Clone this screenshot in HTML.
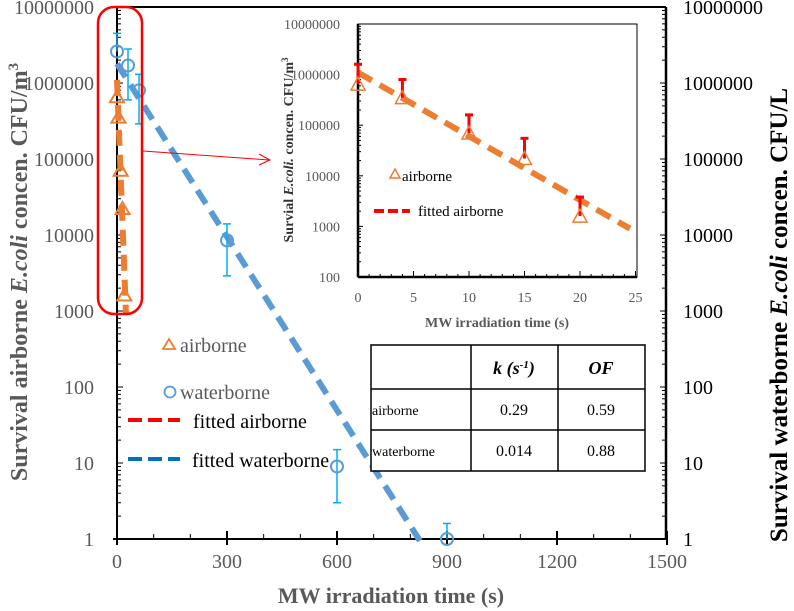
<!DOCTYPE html>
<html><head><meta charset="utf-8"><style>
body{margin:0;background:#fff;width:794px;height:611px;overflow:hidden}
svg{display:block;font-family:"Liberation Serif",serif}
</style></head><body>
<svg id="c" width="794" height="611" viewBox="0 0 794 611"></svg>
<script>
const airT=[0,4,10,15,20];
const airV=[650000,350000,70000,22000,1600];
const airErrHi=[1600000,800000,160000,55000,3800];
const watT=[0,30,60,300,600,900];
const watV=[2600000,1700000,800000,8500,9,1];
const watErrHi=[4500000,2800000,1300000,14000,15,1.6];
const watErrLo=[2600000,600000,290000,2900,3,1];
const fitAirA=1100000, fitAirK=0.29, fitAirEnd=24.5;
const fitWatA=1800000, fitWatK=0.0175, fitWatEnd=826;
const xTicks=[0,300,600,900,1200,1500];
const yTicks=[1,10,100,1000,10000,100000,1000000,10000000];
const insetXTicks=[0,5,10,15,20,25];
const insetYTicks=[100,1000,10000,100000,1000000,10000000];

const NS="http://www.w3.org/2000/svg",svg=document.getElementById('c');
function el(t,a,p){const e=document.createElementNS(NS,t);for(const k in a)e.setAttribute(k,a[k]);(p||svg).appendChild(e);return e;}
const X=t=>117+t*110/300, Y=v=>539-Math.log10(v)*76;
const IX=t=>358+t*11.1, IY=v=>277-(Math.log10(v)-2)*50.6;

let e;
e=el('line',{x1:117,y1:7,x2:666,y2:7,stroke:'#000','stroke-width':2});
e=el('line',{x1:117,y1:7,x2:117,y2:539,stroke:'#000','stroke-width':2});
e=el('line',{x1:666,y1:7,x2:666,y2:539,stroke:'#000','stroke-width':2.5});
e=el('line',{x1:113,y1:539,x2:666,y2:539,stroke:'#000','stroke-width':2});
for(let d=0;d<7;d++){for(let m=1;m<10;m++){const y=Y(Math.pow(10,d)*m);const L=m==1?6:4;
el('line',{x1:117,y1:y,x2:117+L,y2:y,stroke:'#000','stroke-width':1});
el('line',{x1:666,y1:y,x2:666-L,y2:y,stroke:'#000','stroke-width':1});}}
yTicks.forEach(v=>{
e=el('text',{x:94,y:Y(v)+7,'text-anchor':'end','font-size':20,fill:'#595959'});e.textContent=String(v);
e=el('text',{x:683,y:Y(v)+7,'font-size':20,fill:'#000'});e.textContent=String(v);
});
for(let t=0;t<=1500;t+=100){const big=t%300==0;el('line',{x1:X(t),y1:big?545:539,x2:X(t),y2:big?531:534,stroke:'#000','stroke-width':big?2:1});}
xTicks.forEach(t=>{e=el('text',{x:X(t),y:568,'text-anchor':'middle','font-size':20,fill:'#595959'});e.textContent=String(t);});
e=el('text',{x:391,y:603,'text-anchor':'middle','font-size':22,'font-weight':'bold',fill:'#595959'});e.textContent='MW irradiation time (s)';
e=el('text',{transform:'translate(27,272) rotate(-90)','text-anchor':'middle','font-size':24,'font-weight':'bold',fill:'#595959'});
e.innerHTML='Survival airborne <tspan font-style="italic">E.coli</tspan> concen. CFU/m<tspan dy="-9" font-size="15">3</tspan>';
e=el('text',{transform:'translate(787,315) rotate(-90)','text-anchor':'middle','font-size':25,'font-weight':'bold',fill:'#000'});
e.innerHTML='Survival waterborne <tspan font-style="italic">E.coli</tspan> concen. CFU/L';

e=el('line',{x1:X(0),y1:Y(fitWatA),x2:X(fitWatEnd),y2:Y(fitWatA*Math.exp(-fitWatK*fitWatEnd)),stroke:'#5B9BD5','stroke-width':6,'stroke-dasharray':'16,9'});
e=el('line',{x1:X(0),y1:Y(fitAirA),x2:X(fitAirEnd),y2:Y(fitAirA*Math.exp(-fitAirK*fitAirEnd)),stroke:'#ED7D31','stroke-width':6,'stroke-dasharray':'16,9'});
watT.forEach((t,i)=>{const x=X(t);
el('line',{x1:x,y1:Y(watErrHi[i]),x2:x,y2:Y(watErrLo[i]),stroke:'#00B0F0','stroke-width':1.5});
el('line',{x1:x-4,y1:Y(watErrHi[i]),x2:x+4,y2:Y(watErrHi[i]),stroke:'#00B0F0','stroke-width':1.5});
if(watErrLo[i]!==watV[i])el('line',{x1:x-4,y1:Y(watErrLo[i]),x2:x+4,y2:Y(watErrLo[i]),stroke:'#00B0F0','stroke-width':1.5});
e=el('circle',{cx:x,cy:Y(watV[i]),r:6,fill:'none',stroke:'#5B9BD5','stroke-width':2});});
airT.forEach((t,i)=>{const x=X(t),y=Y(airV[i]);
e=el('path',{d:`M${x},${y-7}L${x+7},${y+5}L${x-7},${y+5}Z`,fill:'none',stroke:'#ED7D31','stroke-width':2});});

e=el('rect',{x:98,y:7,width:44,height:307,rx:16,fill:'none',stroke:'#FF0000','stroke-width':2.5});
el('line',{x1:143,y1:151,x2:269,y2:160,stroke:'#FF0000','stroke-width':1});
el('path',{d:'M259,154 L270,160 L259,165',fill:'none',stroke:'#FF0000','stroke-width':1});

el('path',{d:'M169,339 L175,349 L163,349Z',fill:'none',stroke:'#ED7D31','stroke-width':1.8});
e=el('text',{x:180,y:352,'font-size':20,fill:'#595959'});e.textContent='airborne';
el('circle',{cx:170,cy:392,r:5.5,fill:'none',stroke:'#5B9BD5','stroke-width':1.8});
e=el('text',{x:180,y:399,'font-size':20,fill:'#595959'});e.textContent='waterborne';
el('line',{x1:128,y1:420,x2:180,y2:420,stroke:'#FF0000','stroke-width':4,'stroke-dasharray':'14,6'});
e=el('text',{x:193,y:428,'font-size':20,fill:'#000'});e.textContent='fitted airborne';
el('line',{x1:128,y1:459,x2:180,y2:459,stroke:'#0070C0','stroke-width':4,'stroke-dasharray':'14,6'});
e=el('text',{x:192,y:467,'font-size':20,fill:'#000'});e.textContent='fitted waterborne';

const tg=el('g',{});
el('rect',{x:371,y:345,width:274,height:126,fill:'#fff',stroke:'#000','stroke-width':1.5},tg);
[389,430].forEach(y=>el('line',{x1:371,y1:y,x2:645,y2:y,stroke:'#000','stroke-width':1.5},tg));
[471,558].forEach(x=>el('line',{x1:x,y1:345,x2:x,y2:471,stroke:'#000','stroke-width':1.5},tg));
e=el('text',{x:514,y:374,'text-anchor':'middle','font-size':18,'font-weight':'bold','font-style':'italic'},tg);e.innerHTML='k (s<tspan dy="-6" font-size="11">-1</tspan><tspan dy="6">)</tspan>';
e=el('text',{x:601,y:374,'text-anchor':'middle','font-size':18,'font-weight':'bold','font-style':'italic'},tg);e.textContent='OF';
[['airborne','0.29','0.59',415],['waterborne','0.014','0.88',456]].forEach(r=>{
e=el('text',{x:372,y:r[3],'font-size':14},tg);e.textContent=r[0];
e=el('text',{x:514,y:r[3],'text-anchor':'middle','font-size':16},tg);e.textContent=r[1];
e=el('text',{x:601,y:r[3],'text-anchor':'middle','font-size':16},tg);e.textContent=r[2];});

const ig=el('g',{});
el('rect',{x:358,y:24,width:279,height:253,fill:'#fff',stroke:'#000','stroke-width':1},ig);
el('line',{x1:358,y1:24,x2:358,y2:277,stroke:'#000','stroke-width':2.5},ig);
el('line',{x1:358,y1:277,x2:637,y2:277,stroke:'#000','stroke-width':2.5},ig);
for(let d=2;d<7;d++)for(let m=1;m<10;m++){const y=IY(Math.pow(10,d)*m);el('line',{x1:358,y1:y,x2:m==1?363:361,y2:y,stroke:'#000','stroke-width':1},ig);}
for(let t=0;t<=25;t++){el('line',{x1:IX(t),y1:277,x2:IX(t),y2:t%5==0?271:274,stroke:'#000','stroke-width':1},ig);}
insetYTicks.forEach(v=>{e=el('text',{x:340,y:IY(v)+5,'text-anchor':'end','font-size':14,fill:'#595959'},ig);e.textContent=String(v);});
insetXTicks.forEach(t=>{e=el('text',{x:IX(t),y:302,'text-anchor':'middle','font-size':14,fill:'#595959'},ig);e.textContent=String(t);});
e=el('text',{x:497,y:327,'text-anchor':'middle','font-size':14,'font-weight':'bold',fill:'#595959'},ig);e.textContent='MW irradiation time (s)';
e=el('text',{transform:'translate(293,150) rotate(-90)','text-anchor':'middle','font-size':14,'font-weight':'bold',fill:'#333'},ig);
e.innerHTML='Survial <tspan font-style="italic">E.coli.</tspan> concen. CFU/m<tspan dy="-5" font-size="9">3</tspan>';
e=el('line',{x1:IX(0),y1:IY(fitAirA),x2:IX(fitAirEnd),y2:IY(fitAirA*Math.exp(-fitAirK*fitAirEnd)),stroke:'#ED7D31','stroke-width':6,'stroke-dasharray':'16,9'},ig);
airT.forEach((t,i)=>{const x=IX(t),y=IY(airV[i]);
el('line',{x1:x,y1:IY(airErrHi[i]),x2:x,y2:y,stroke:'#FF0000','stroke-width':3},ig);
el('line',{x1:x-4,y1:IY(airErrHi[i]),x2:x+4,y2:IY(airErrHi[i]),stroke:'#FF0000','stroke-width':3},ig);
e=el('path',{d:`M${x},${y-7}L${x+7},${y+6}L${x-7},${y+6}Z`,fill:'none',stroke:'#ED7D31','stroke-width':1.5},ig);});
el('path',{d:'M395,169 L400,178 L390,178Z',fill:'none',stroke:'#ED7D31','stroke-width':1.5},ig);
e=el('text',{x:402,y:181,'font-size':15},ig);e.textContent='airborne';
el('line',{x1:374,y1:211,x2:410,y2:211,stroke:'#FF0000','stroke-width':4,'stroke-dasharray':'10,4'},ig);
e=el('text',{x:418,y:216,'font-size':15},ig);e.textContent='fitted airborne';
</script>
</body></html>
